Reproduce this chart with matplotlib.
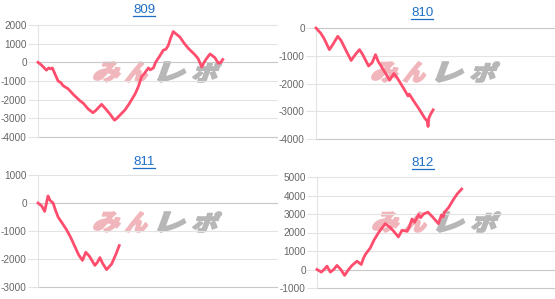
import matplotlib
matplotlib.use("Agg")
import matplotlib.pyplot as plt
from matplotlib.lines import Line2D
from matplotlib.patches import PathPatch
from matplotlib.textpath import TextPath
from matplotlib.font_manager import FontProperties
from matplotlib.transforms import Affine2D, IdentityTransform

W, H = 555, 299

titles = ["809", "810", "811", "812"]

x809 = [0, 1.5, 3.5, 4.5, 5.2, 6, 8.4, 9.5, 10.5, 12.6, 15, 17.5, 19, 21, 23, 24,
        26.6, 28, 30, 32, 33, 34.5, 36.4, 38, 40.6, 42, 43.4, 44.5, 46.2, 47, 48.3,
        49.2, 49.7, 51, 52.4, 53.5, 54.5, 55.5, 56.6, 57.5, 59.4, 61, 62.9, 64.5,
        65.7, 67, 68.5, 69.5, 70.5, 72, 73, 74, 75.5, 76.5, 77.3]
y809 = [0, -150, -420, -300, -350, -300, -1000, -1080, -1250, -1420, -1750, -2050,
        -2200, -2500, -2700, -2600, -2250, -2450, -2750, -3100, -3000, -2800, -2550,
        -2250, -1700, -1300, -750, -600, -300, -400, -300, 0, 100, 350, 650, 700, 900,
        1300, 1650, 1550, 1350, 1050, 750, 550, 400, 200, -250, 0, 200, 450, 350, 250,
        -50, 0, 150]

x810 = [0, 2.1, 3.5, 5.6, 7, 9.1, 10.5, 12.5, 14.7, 16.5, 18.2, 19.5, 22, 23.5, 24.9,
        26, 28.5, 30.8, 32.6, 34, 36.5, 38.5, 39, 41, 43, 45.5, 46.5, 46.9, 47.2, 48, 49]
y810 = [0, -200, -400, -780, -600, -300, -450, -800, -1170, -950, -780, -950, -1370,
        -1250, -960, -1200, -1550, -1880, -1640, -1800, -2150, -2450, -2380, -2650,
        -2900, -3250, -3350, -3550, -3250, -3100, -2950]

x811 = [0, 1.5, 2.8, 3.8, 4.2, 5, 6.3, 7.5, 8.4, 10, 11.9, 13.5, 15.4, 17, 18.6, 20,
        21.5, 23.8, 25, 25.9, 27, 28.7, 29.5, 30.8, 32.5, 34]
y811 = [0, -100, -300, 100, 250, 100, 0, -300, -500, -700, -950, -1200, -1550, -1850,
        -2050, -1760, -1900, -2230, -2100, -1950, -2150, -2380, -2300, -2180, -1850, -1520]

x812 = [0, 1.8, 3, 4.2, 5.6, 7, 8.4, 10, 11.6, 13, 14.7, 16.8, 18.6, 19.5, 20.3, 22.4,
        24, 25.9, 28.7, 30.5, 32, 34.2, 35.7, 37.8, 38.8, 39.9, 41, 42.7, 43.5, 44.8,
        46.6, 48.5, 51, 52.3, 53, 53.6, 55.3, 57.3, 59, 60.8]
y812 = [0, -140, 0, 180, -140, 0, 220, 0, -320, -50, 220, 450, 270, 600, 810, 1170,
        1600, 2000, 2480, 2300, 2100, 1760, 2120, 2070, 2300, 2730, 2550, 2970, 2800,
        3000, 3100, 2850, 2480, 2950, 2850, 3100, 3350, 3780, 4100, 4350]

xs = [x809, x810, x811, x812]
ys = [y809, y810, y811, y812]
ylims = [(-4000, 2000), (-4000, 0), (-3000, 1000), (-1000, 5000)]

# axes boxes in pixels: left, top, right, bottom (top-down coords)
boxes = [(38, 25, 277, 137), (316, 28, 555, 139),
         (38, 175, 277, 287), (317, 177, 555, 288)]
# title: center x, baseline y (top-down)
title_pos = [(144, 13), (422, 16), (144, 165), (423, 166)]
panel_top = [0, 0, 150, 150]

# watermark characters: (char, x from axes left, x to, colour)
logo = [("み", 54, 86, "#f0b6bb"), ("ん", 87, 114, "#f0b6bb"),
        ("レ", 119, 151, "#b7b7b7"), ("ポ", 153, 184, "#b7b7b7")]

line_color = "#ff4d6d"
grid_color = "#e3e3e3"
base_color = "#c8c8c8"
title_color = "#1f6fc6"

fig = plt.figure(figsize=(W / 100, H / 100), dpi=100)

fp_wm = FontProperties(family="Noto Sans CJK JP", weight="heavy")


def watermark(text, x0, x1, ytop, ybot, color):
    tp = TextPath((0, 0), text, size=1, prop=fp_wm)
    ext = tp.get_extents()
    h = ybot - ytop
    skew = 0.35
    w = (x1 - x0) - h * skew
    tr = (Affine2D().translate(-ext.x0, -ext.y0)
          .scale(w / ext.width, h / ext.height)
          .skew(skew, 0)
          .translate(x0, H - ybot))
    patch = PathPatch(tr.transform_path(tp), facecolor=color, edgecolor=color,
                      lw=1.2, transform=IdentityTransform(), zorder=1)
    fig.add_artist(patch)


for i in range(4):
    l, t, r, b = boxes[i]
    ax = fig.add_axes([l / W, (H - b) / H, (r - l) / W, (b - t) / H])
    ax.set_zorder(2)
    ax.patch.set_alpha(0)
    lo, hi = ylims[i]
    ticks = list(range(lo, hi + 1, 1000))
    ax.set_ylim(lo, hi)
    ax.set_xlim(0, 100)
    ax.set_yticks(ticks)
    ax.set_yticklabels([str(v) for v in ticks], fontsize=7.2, color="#666666",
                       family="Liberation Sans")
    ax.set_xticks([])
    for v in ticks:
        c = base_color if v in (0, lo) else grid_color
        ax.axhline(v, color=c, lw=0.8, zorder=1, clip_on=False)
    ax.tick_params(axis="y", length=7, width=0.8, color=grid_color, pad=1)
    for s in ["top", "right", "bottom"]:
        ax.spines[s].set_visible(False)
    ax.spines["left"].set_color(grid_color)
    ax.spines["left"].set_linewidth(0.8)
    ax.plot(xs[i], ys[i], color=line_color, lw=2.0, zorder=3, clip_on=False)

    # title with underline
    cx, by = title_pos[i]
    fig.text(cx / W, (H - by) / H, titles[i], ha="center", va="baseline",
             fontsize=9.5, color=title_color, family="Liberation Sans")
    fig.add_artist(Line2D([(cx - 11) / W, (cx + 11) / W],
                          [(H - by - 2.5) / H, (H - by - 2.5) / H],
                          color=title_color, lw=0.9))

    # watermark logo
    pt = panel_top[i]
    for ch, a, z, col in logo:
        watermark(ch, l + a, l + z, pt + 62, pt + 82, col)

fig.savefig("out.png", dpi=100)
